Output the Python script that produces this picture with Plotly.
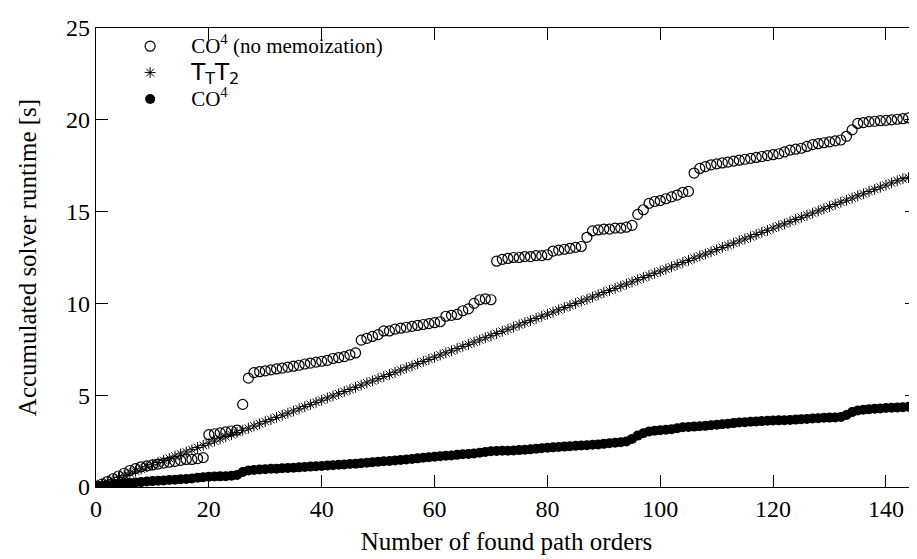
import plotly.graph_objects as go

x_orders = list(range(145))

co4_nomemo = [
    0.05, 0.15, 0.30, 0.45, 0.60, 0.75, 0.90, 1.00, 1.10, 1.15,
    1.20, 1.25, 1.30, 1.35, 1.40, 1.45, 1.50, 1.50, 1.55, 1.60,
    2.85, 2.90, 2.95, 3.00, 3.05, 3.10, 4.50, 5.93, 6.23, 6.28,
    6.33, 6.38, 6.43, 6.48, 6.53, 6.58, 6.63, 6.70, 6.75, 6.80,
    6.85, 6.90, 7.00, 7.05, 7.10, 7.20, 7.30, 8.00, 8.10, 8.20,
    8.30, 8.50, 8.50, 8.60, 8.65, 8.70, 8.75, 8.80, 8.85, 8.90,
    8.95, 9.00, 9.30, 9.35, 9.40, 9.60, 9.70, 10.00, 10.20, 10.25,
    10.20, 12.30, 12.40, 12.45, 12.50, 12.50, 12.55, 12.55, 12.60, 12.60,
    12.65, 12.85, 12.90, 12.95, 13.00, 13.05, 13.10, 13.60, 13.95, 14.00,
    14.05, 14.05, 14.10, 14.10, 14.15, 14.25, 14.85, 15.10, 15.45, 15.55,
    15.60, 15.70, 15.80, 15.90, 16.05, 16.10, 17.10, 17.35, 17.45, 17.55,
    17.60, 17.65, 17.70, 17.75, 17.80, 17.85, 17.90, 17.95, 18.00, 18.05,
    18.10, 18.15, 18.25, 18.35, 18.40, 18.45, 18.55, 18.65, 18.70, 18.75,
    18.80, 18.85, 18.90, 19.10, 19.45, 19.80, 19.85, 19.90, 19.92, 19.95,
    19.97, 20.00, 20.03, 20.06, 20.10,
]

ttt2 = [
    0.05, 0.17, 0.29, 0.40, 0.52, 0.63, 0.75, 0.86, 0.98, 1.10,
    1.21, 1.33, 1.45, 1.56, 1.68, 1.80, 1.91, 2.03, 2.15, 2.27,
    2.38, 2.50, 2.62, 2.74, 2.85, 2.97, 3.09, 3.20, 3.32, 3.44,
    3.56, 3.67, 3.79, 3.91, 4.02, 4.14, 4.26, 4.38, 4.49, 4.61,
    4.73, 4.85, 4.96, 5.08, 5.20, 5.31, 5.43, 5.55, 5.67, 5.78,
    5.90, 6.02, 6.13, 6.25, 6.37, 6.49, 6.60, 6.72, 6.84, 6.95,
    7.07, 7.19, 7.31, 7.42, 7.54, 7.66, 7.77, 7.89, 8.01, 8.13,
    8.24, 8.36, 8.48, 8.59, 8.71, 8.83, 8.95, 9.06, 9.18, 9.30,
    9.41, 9.53, 9.65, 9.77, 9.88, 10.00, 10.12, 10.23, 10.35, 10.47,
    10.59, 10.70, 10.82, 10.94, 11.05, 11.17, 11.29, 11.41, 11.52, 11.64,
    11.76, 11.87, 11.99, 12.11, 12.23, 12.34, 12.46, 12.58, 12.69, 12.81,
    12.93, 13.05, 13.16, 13.28, 13.40, 13.51, 13.63, 13.75, 13.87, 13.98,
    14.10, 14.22, 14.33, 14.45, 14.57, 14.69, 14.80, 14.92, 15.04, 15.15,
    15.27, 15.39, 15.51, 15.62, 15.74, 15.86, 15.97, 16.09, 16.21, 16.33,
    16.44, 16.56, 16.68, 16.79, 16.85,
]

co4 = [
    0.03, 0.06, 0.10, 0.14, 0.18, 0.20, 0.22, 0.25, 0.27, 0.30,
    0.32, 0.34, 0.36, 0.38, 0.40, 0.42, 0.44, 0.46, 0.50, 0.53,
    0.56, 0.57, 0.58, 0.59, 0.61, 0.66, 0.82, 0.90, 0.93, 0.95,
    0.97, 0.99, 1.00, 1.02, 1.04, 1.05, 1.07, 1.09, 1.11, 1.13,
    1.15, 1.17, 1.19, 1.21, 1.23, 1.25, 1.27, 1.29, 1.32, 1.35,
    1.38, 1.40, 1.42, 1.45, 1.47, 1.50, 1.53, 1.56, 1.59, 1.62,
    1.65, 1.68, 1.70, 1.72, 1.75, 1.78, 1.80, 1.83, 1.87, 1.91,
    1.95, 1.96, 1.97, 1.98, 1.99, 2.01, 2.03, 2.05, 2.08, 2.11,
    2.14, 2.16, 2.18, 2.20, 2.22, 2.24, 2.26, 2.28, 2.30, 2.32,
    2.35, 2.38, 2.41, 2.44, 2.48, 2.62, 2.80, 2.93, 3.02, 3.06,
    3.09, 3.12, 3.15, 3.20, 3.25, 3.27, 3.29, 3.31, 3.33, 3.36,
    3.39, 3.42, 3.45, 3.48, 3.51, 3.53, 3.55, 3.57, 3.59, 3.61,
    3.62, 3.63, 3.64, 3.65, 3.67, 3.69, 3.71, 3.73, 3.75, 3.77,
    3.78, 3.79, 3.81, 3.92, 4.08, 4.17, 4.21, 4.24, 4.26, 4.28,
    4.30, 4.32, 4.33, 4.35, 4.37,
]

FONT = "Liberation Serif"
TXT = 24
LEG = 21

names = [
    f"<span style=\"font-size:{LEG}px\">CO<sup>4</sup> (no memoization)</span>",
    "<span style=\"font-family:'DejaVu Sans';font-size:23px\">T<sub>T</sub>T<sub>2</sub></span>",
    f"<span style=\"font-size:{LEG}px\">CO<sup>4</sup></span>",
]

x_ticks = [0, 20, 40, 60, 80, 100, 120, 140]
y_ticks = [0, 5, 10, 15, 20, 25]

fig = go.Figure()
fig.add_trace(go.Scatter(
    x=x_orders, y=co4_nomemo, mode="markers", name=names[0],
    marker=dict(symbol="circle-open", size=10, color="black", line=dict(width=1.2, color="black")),
))
fig.add_trace(go.Scatter(
    x=x_orders, y=ttt2, mode="markers", name=names[1],
    marker=dict(symbol="asterisk-open", size=9, color="black", line=dict(width=1, color="black")),
))
fig.add_trace(go.Scatter(
    x=x_orders, y=co4, mode="markers", name=names[2],
    marker=dict(symbol="circle", size=10, color="black", line=dict(width=0)),
))

axis_common = dict(
    showline=True, linecolor="black", linewidth=1.2, mirror="ticks",
    ticks="inside", ticklen=12, tickwidth=1, tickcolor="black",
    showgrid=False, zeroline=False,
    tickfont=dict(family=FONT, size=TXT, color="black"),
)

fig.update_xaxes(
    range=[0, 145.5], tickvals=x_ticks, ticktext=[str(v) for v in x_ticks],
    title=dict(text="Number of found path orders", font=dict(family=FONT, size=25, color="black"), standoff=11),
    **axis_common,
)
fig.update_yaxes(
    range=[0, 25], tickvals=y_ticks, ticktext=[str(v) for v in y_ticks],
    title=dict(text="Accumulated solver runtime [s]", font=dict(family=FONT, size=25, color="black"), standoff=22),
    **axis_common,
)

fig.update_layout(
    width=917, height=559,
    margin=dict(l=88, r=7, t=13, b=80),
    plot_bgcolor="white", paper_bgcolor="white",
    font=dict(family=FONT, size=TXT, color="black"),
    legend=dict(
        x=0.016, y=1.0, xanchor="left", yanchor="top",
        bgcolor="rgba(0,0,0,0)", borderwidth=0,
        font=dict(family=FONT, size=18, color="black"),
        itemwidth=72, tracegroupgap=0,
    ),
    showlegend=True,
)

fig.write_html("out.html")
